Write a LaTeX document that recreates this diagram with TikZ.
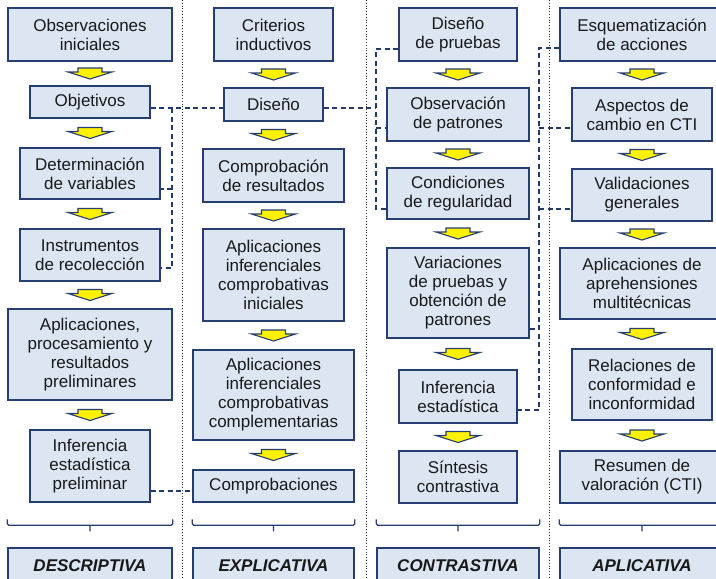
\documentclass[tikz,border=0pt]{standalone}
\usepackage{fontspec}
\setmainfont{Liberation Sans}
\usepackage{tikz}
\usetikzlibrary{calc,arrows.meta}
\definecolor{boxfill}{RGB}{220,230,242}
\definecolor{boxline}{RGB}{38,62,112}
\definecolor{linkcol}{RGB}{34,58,104}
\definecolor{txtcol}{RGB}{25,25,25}
\tikzset{
box/.style 2 args={
  draw=boxline,
  fill=boxfill,
  line width=1.4pt,
  text=txtcol,
  align=center,
  inner sep=1pt,
  font=\fontsize{17}{19}\selectfont,
  minimum width=#1,
  minimum height=#2
  },
tag/.style={
  box={#1}{36pt},
  font=\fontsize{17}{19}\selectfont\bfseries\itshape
  },
link/.style={
  draw=linkcol,
  line width=1.2pt,
  dash pattern=on 5pt off 3.5pt
  },
sepline/.style={
  draw=black!80,
  line width=0.8pt,
  dotted
  },
brace/.style={
  draw=boxline,
  line width=1.3pt,
  rounded corners=1.5pt
  },
yarrow/.pic={
  \filldraw[draw=boxline,fill=yellow,line width=1.1pt,line join=miter]
    (-12,-5.5) -- (12,-5.5) -- (12,-1.5) -- (22,-1.5) -- (0,5.5) -- (-22,-1.5) -- (-12,-1.5) -- cycle;
  }
}
\begin{document}
\begin{tikzpicture}[>=latex,x=1pt,y=-1pt]
\useasboundingbox (0,0) rectangle (716,579);
\foreach \xs in {182,366,549}
  \draw[sepline] (\xs,0) -- (\xs,579);
% descriptiva
\node[box={164pt}{53pt}] (obsini) at (90,34.5) {Observaciones\\iniciales};
\node[box={120pt}{32pt}] (objet) at (90,102) {Objetivos};
\node[box={140pt}{51pt}] (detvar) at (90,173.5) {Determinación\\de variables};
\node[box={140pt}{52pt}] (instrec) at (90,255) {Instrumentos\\de recolección};
\node[box={164pt}{91pt}] (aplproc) at (90,354.5) {Aplicaciones,\\procesamiento y\\resultados\\preliminares};
\node[box={120pt}{72pt}] (infprel) at (90,466) {Inferencia\\estadística\\preliminar};
\node[tag={164pt}] (desc) at (90,566) {DESCRIPTIVA};
% explicativa
\node[box={119pt}{53pt}] (critind) at (273.5,34.5) {Criterios\\inductivos};
\node[box={99pt}{33pt}] (diseno) at (273.5,104.5) {Diseño};
\node[box={141pt}{53pt}] (comprob) at (273.5,175.5) {Comprobación\\de resultados};
\node[box={141pt}{92pt}] (aplini) at (273.5,275) {Aplicaciones\\inferenciales\\comprobativas\\iniciales};
\node[box={161pt}{90pt}] (aplcomp) at (273.5,395) {Aplicaciones\\inferenciales\\comprobativas\\complementarias};
\node[box={161pt}{32pt}] (comprobs) at (273.5,486) {Comprobaciones};
\node[tag={161pt}] (expl) at (273.5,566) {EXPLICATIVA};
% contrastiva
\node[box={118pt}{53pt}] (dispru) at (458,34.5) {Diseño\\de pruebas};
\node[box={142pt}{53pt}] (obspat) at (458,114.5) {Observación\\de patrones};
\node[box={142pt}{51pt}] (condreg) at (458,193.5) {Condiciones\\de regularidad};
\node[box={142pt}{90pt}] (varpru) at (458,293) {Variaciones\\de pruebas y\\obtención de\\patrones};
\node[box={118pt}{53pt}] (infest) at (458,396.5) {Inferencia\\estadística};
\node[box={118pt}{52pt}] (sintcon) at (458,477) {Síntesis\\contrastiva};
\node[tag={162pt}] (contr) at (458,566) {CONTRASTIVA};
% aplicativa
\node[box={164pt}{53pt}] (esqacc) at (642,34.5) {Esquematización\\de acciones};
\node[box={140pt}{53pt}] (aspcam) at (642,114.5) {Aspectos de\\cambio en CTI};
\node[box={140pt}{52pt}] (valgen) at (642,195) {Validaciones\\generales};
\node[box={164pt}{71pt}] (aplapr) at (642,283.5) {Aplicaciones de\\aprehensiones\\multitécnicas};
\node[box={140pt}{71pt}] (relconf) at (642,384.5) {Relaciones de\\conformidad e\\inconformidad};
\node[box={164pt}{52pt}] (resval) at (642,477) {Resumen de\\valoración (CTI)};
\node[tag={164pt}] (aplic) at (642,566) {APLICATIVA};

\foreach \a/\b in {obsini/objet,objet/detvar,detvar/instrec,instrec/aplproc,aplproc/infprel,
    critind/diseno,diseno/comprob,comprob/aplini,aplini/aplcomp,aplcomp/comprobs,
    dispru/obspat,obspat/condreg,condreg/varpru,varpru/infest,infest/sintcon,
    esqacc/aspcam,aspcam/valgen,valgen/aplapr,aplapr/relconf,relconf/resval}
  \pic at ($(\a.south)!.5!(\b.north)$) {yarrow};

\foreach \n in {desc,expl,contr,aplic}
  \draw[brace] ([yshift=28pt]\n.north west) -- ([yshift=22pt]\n.north west)
    -- ([yshift=22pt]\n.north east) -- ([yshift=28pt]\n.north east)
    ([yshift=22pt]\n.north) -- ([yshift=16pt]\n.north);

\coordinate (busa) at (172,108);
\coordinate (busam) at (172,189);
\coordinate (busab) at (172,268);
\coordinate (busb) at (376,49);
\coordinate (busbm) at (376,128);
\coordinate (busbb) at (376,209);
\coordinate (busc) at (539,48);
\coordinate (buscb) at (539,410);
\coordinate (buscv) at (539,329);
\coordinate (busd) at (172,491);
\draw[link] (objet.east|-busa) -- (diseno.west|-busa);
\draw[link] (busa) -- (busab) -- (instrec.east|-busab);
\draw[link] (busam) -- (detvar.east|-busam);
\draw[link] (diseno.east|-busa) -- (busb|-busa);
\draw[link] (dispru.west|-busb) -- (busb) -- (busbb) -- (condreg.west|-busbb);
\draw[link] (busbm) -- (obspat.west|-busbm);
\draw[link] (esqacc.west|-busc) -- (busc) -- (buscb) -- (infest.east|-buscb);
\draw[link] (busc|-busbm) -- (aspcam.west|-busbm);
\draw[link] (busc|-busbb) -- (valgen.west|-busbb);
\draw[link] (varpru.east|-buscv) -- (buscv);
\draw[link] (infprel.east|-busd) -- (comprobs.west|-busd);
\end{tikzpicture}
\end{document}
